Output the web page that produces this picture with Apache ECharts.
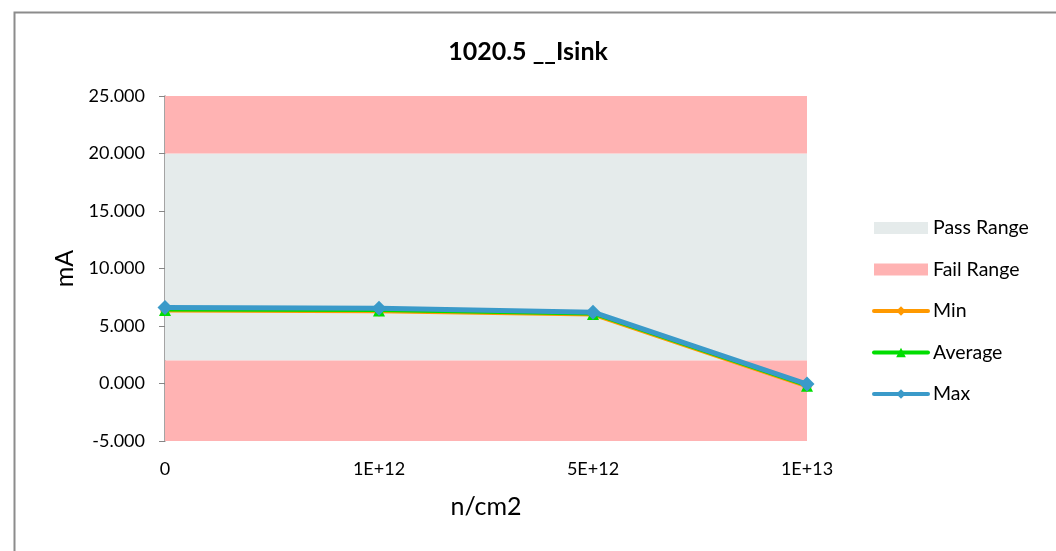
<!DOCTYPE html>
<html>
<head>
<meta charset="utf-8">
<script src="https://cdn.jsdelivr.net/npm/echarts@6/dist/echarts.min.js"></script>
<style>
  html, body { margin: 0; padding: 0; background: #fff; }
  #chart { width: 1056px; height: 551px; }
</style>
</head>
<body>
<div id="chart"></div>
<script>
// Fluence steps (n/cm2)
const categories = ['0', '1E+12', '5E+12', '1E+13'];

// Measured sink current (mA)
const minValues = [6.3, 6.25, 5.95, -0.3];
const avgValues = [6.4, 6.35, 6.05, -0.2];
const maxValues = [6.6, 6.55, 6.2, -0.05];

// Limit bands (mA)
const passRange = [2, 20];
const failRanges = [[-5, 2], [20, 25]];

// Y axis scale
const yMin = -5, yMax = 25, yStep = 5;

const font = 'Lato, "Open Sans", sans-serif';
const axisGray = '#868686';

const chart = echarts.init(document.getElementById('chart'), null, { renderer: 'canvas' });

const lineSeries = (name, data, color, width, symbol, size, z) => ({
  name, type: 'line', data,
  symbol, symbolSize: size, showSymbol: true,
  lineStyle: { color, width, cap: 'round', join: 'round' },
  itemStyle: { color },
  z, animation: false
});

const legendLine = { width: 4, cap: 'round' };

chart.setOption({
  animation: false,
  backgroundColor: '#ffffff',
  graphic: [{
    type: 'rect', left: 12, top: 10,
    shape: { width: 1043, height: 560 },
    style: { fill: 'none', stroke: '#8c8c8c', lineWidth: 2 },
    silent: true
  }],
  title: {
    text: '1020.5 __Isink',
    left: 'center', top: 34,
    textStyle: { fontFamily: font, fontWeight: 'bold', fontSize: 25, color: '#000' }
  },
  legend: {
    orient: 'vertical', left: 872, top: 217, padding: 0,
    itemWidth: 54, itemHeight: 12, itemGap: 19.5,
    textStyle: { fontFamily: font, fontSize: 19.5, lineHeight: 22, color: '#000' },
    data: [
      { name: 'Pass Range', icon: 'rect' },
      { name: 'Fail Range', icon: 'rect' },
      { name: 'Min', lineStyle: legendLine },
      { name: 'Average', lineStyle: legendLine },
      { name: 'Max', lineStyle: legendLine }
    ]
  },
  grid: { left: 165, right: 249, top: 96, bottom: 110, containLabel: false },
  xAxis: {
    type: 'category', data: categories, boundaryGap: false,
    name: 'n/cm2', nameLocation: 'middle', nameGap: 53,
    nameTextStyle: { fontFamily: font, fontSize: 25, color: '#000' },
    axisLine: { lineStyle: { color: axisGray, width: 1.5 } },
    axisTick: { show: true, length: 6, alignWithLabel: true, lineStyle: { color: axisGray } },
    axisLabel: { fontFamily: font, fontSize: 18, color: '#000', margin: 19 },
    splitLine: { show: false }
  },
  yAxis: {
    type: 'value', min: yMin, max: yMax, interval: yStep,
    name: 'mA', nameLocation: 'middle', nameGap: 88, nameRotate: 90,
    nameTextStyle: { fontFamily: font, fontSize: 25, color: '#000' },
    axisLine: { show: true, lineStyle: { color: axisGray, width: 1.5 } },
    axisTick: { show: true, length: 6, lineStyle: { color: axisGray } },
    axisLabel: {
      fontFamily: font, fontSize: 18, color: '#000', margin: 20,
      formatter: v => v.toFixed(3)
    },
    splitLine: { show: false }
  },
  series: [
    {
      name: 'Pass Range', type: 'line', data: [],
      itemStyle: { color: '#e5ebeb' }, lineStyle: { color: '#e5ebeb' },
      z: 0,
      markArea: {
        silent: true,
        itemStyle: { color: '#e5ebeb' },
        data: [[{ yAxis: passRange[0] }, { yAxis: passRange[1] }]]
      }
    },
    {
      name: 'Fail Range', type: 'line', data: [],
      itemStyle: { color: '#ffb3b3' }, lineStyle: { color: '#ffb3b3' },
      z: 0,
      markArea: {
        silent: true,
        itemStyle: { color: '#ffb3b3' },
        data: failRanges.map(r => [{ yAxis: r[0] }, { yAxis: r[1] }])
      }
    },
    lineSeries('Min', minValues, '#ff9900', 3, 'diamond', 10, 3),
    lineSeries('Average', avgValues, '#00dd00', 3, 'triangle', 12, 4),
    lineSeries('Max', maxValues, '#3a9ac9', 5, 'diamond', 15, 5)
  ]
});
</script>
</body>
</html>
